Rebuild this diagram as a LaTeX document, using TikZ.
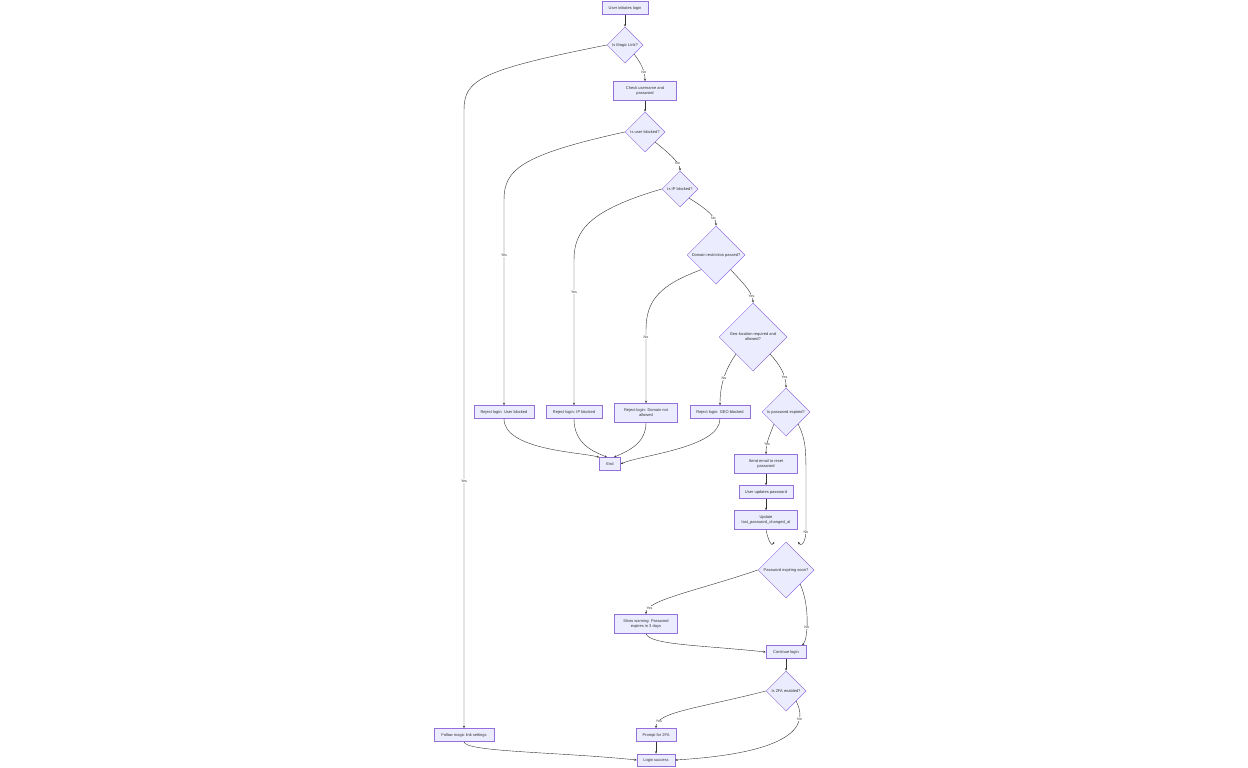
\documentclass[tikz,border=0pt]{standalone}
\usepackage{fontspec}
\setmainfont{Liberation Sans}
\usetikzlibrary{shapes.geometric,arrows.meta}
\definecolor{nfill}{HTML}{ECECFF}
\definecolor{nline}{HTML}{9370DB}
\definecolor{eline}{HTML}{333333}
\begin{document}
\begin{tikzpicture}[x=1pt,y=-1pt,
  every node/.style={font=\fontsize{4}{5}\selectfont,text=eline},
  box/.style={draw=nline,fill=nfill,line width=0.5pt,minimum height=13pt,align=center,inner sep=1pt},
  dia/.style={draw=nline,fill=nfill,line width=0.5pt,diamond,aspect=1,inner sep=0pt,align=center},
  edge/.style={draw=eline,line width=0.4pt,-{Stealth[length=2.5pt,width=2pt]}},
  lab/.style={fill=white,inner sep=0.6pt,font=\fontsize{3.6}{4}\selectfont}]
\useasboundingbox (0,0) rectangle (1248,768);
\node[box,minimum width=46pt] (start) at (625,8) {User initiates login};
\node[dia,minimum size=36pt] (magic) at (625,45) {Is Magic Link?};
\node[box,minimum width=63pt,minimum height=19pt] (check) at (645,91) {Check username and\\password};
\node[dia,minimum size=40pt] (ublock) at (645,132) {Is user blocked?};
\node[dia,minimum size=36pt] (ipb) at (680,189) {Is IP blocked?};
\node[dia,minimum size=58pt] (dom) at (716,255) {Domain restriction passed?};
\node[dia,minimum size=68pt] (geo) at (753,337) {Geo-location required and\\allowed?};
\node[box,minimum width=60pt] (rejU) at (504,412) {Reject login: User blocked};
\node[box,minimum width=56pt] (rejIP) at (574,412) {Reject login: IP blocked};
\node[box,minimum width=63pt,minimum height=19pt] (rejD) at (646,413) {Reject login: Domain not\\allowed};
\node[box,minimum width=60pt] (rejG) at (720,412) {Reject login: GEO blocked};
\node[dia,minimum size=48pt] (pexp) at (786,412) {Is password expired?};
\node[box,minimum width=21pt] (endn) at (610,464) {End};
\node[box,minimum width=63pt,minimum height=19pt] (send) at (766,464) {Send email to reset\\password};
\node[box,minimum width=54pt] (upd) at (766,492) {User updates password};
\node[box,minimum width=63pt,minimum height=19pt] (updts) at (766,520) {Update\\last\_password\_changed\_at};
\node[dia,minimum size=56pt] (soon) at (786,570) {Password expiring soon?};
\node[box,minimum width=63pt,minimum height=19pt] (warn) at (646,624) {Show warning: Password\\expires in 3 days};
\node[box,minimum width=40pt] (cont) at (786,652) {Continue login};
\node[dia,minimum size=40pt] (tfa) at (786,691) {Is 2FA enabled?};
\node[box,minimum width=60pt] (follow) at (464,735) {Follow magic link settings};
\node[box,minimum width=40pt] (prompt) at (656,735) {Prompt for 2FA};
\node[box,minimum width=38pt,minimum height=12pt] (succ) at (656,760) {Login success};

\draw[edge] (start) -- (magic);
\draw[edge] (magic.south east) .. controls (640,62) and (645,70) .. (check.north) node[lab,pos=0.7] {No};
\draw[edge] (magic.west) .. controls (480,70) and (464,80) .. (464,110) -- (follow.north) node[lab,pos=0.6] {Yes};
\draw[edge] (check) -- (ublock);
\draw[edge] (ublock.west) .. controls (520,155) and (504,170) .. (504,200) -- (rejU.north) node[lab,pos=0.27] {Yes};
\draw[edge] (ublock.south east) .. controls (665,150) and (680,162) .. (ipb.north) node[lab,pos=0.75] {No};
\draw[edge] (ipb.west) .. controls (590,210) and (574,230) .. (574,260) -- (rejIP.north) node[lab,pos=0.22] {Yes};
\draw[edge] (ipb.south east) .. controls (700,205) and (716,215) .. (dom.north) node[lab,pos=0.75] {No};
\draw[edge] (dom.south west) .. controls (660,285) and (646,300) .. (646,330) -- (rejD.north) node[lab,pos=0.1] {No};
\draw[edge] (dom.south east) .. controls (740,280) and (753,292) .. (geo.north) node[lab,pos=0.8] {Yes};
\draw[edge] (geo.south west) .. controls (725,370) and (720,385) .. (rejG.north) node[lab,pos=0.5] {No};
\draw[edge] (geo.south east) .. controls (780,365) and (786,375) .. (pexp.north) node[lab,pos=0.7] {Yes};
\draw[edge] (rejU.south) .. controls (504,450) and (580,452) .. (endn.north west);
\draw[edge] (rejIP.south) .. controls (574,445) and (595,452) .. ([xshift=-3pt]endn.north);
\draw[edge] (rejD.south) .. controls (646,445) and (625,452) .. ([xshift=4pt]endn.north);
\draw[edge] (rejG.south) .. controls (720,448) and (640,455) .. (endn.east);
\draw[edge] (pexp.south west) .. controls (770,435) and (766,442) .. (send.north) node[lab,pos=0.7] {Yes};
\draw[edge] (pexp.south east) .. controls (806,440) and (806,450) .. (806,480) -- (806,530) .. controls (806,540) and (802,548) .. ([xshift=12pt]soon.north) node[lab,pos=0.08] {No};
\draw[edge] (send) -- (upd);
\draw[edge] (upd) -- (updts);
\draw[edge] (updts.south) .. controls (768,540) and (772,548) .. ([xshift=-12pt]soon.north);
\draw[edge] (soon.west) .. controls (700,590) and (646,600) .. (warn.north) node[lab,pos=0.85] {Yes};
\draw[edge] (soon.south east) .. controls (810,605) and (808,640) .. ([xshift=16pt]cont.north) node[lab,pos=0.6] {No};
\draw[edge] (warn.south) .. controls (650,645) and (700,645) .. (cont.west);
\draw[edge] (cont) -- (tfa);
\draw[edge] (tfa.west) .. controls (700,708) and (656,712) .. (prompt.north) node[lab,pos=0.85] {Yes};
\draw[edge] (tfa.south east) .. controls (806,720) and (806,752) .. (succ.east) node[lab,pos=0.28] {No};
\draw[edge] (follow.south) .. controls (464,752) and (560,752) .. (succ.west);
\draw[edge] (prompt) -- (succ);
\end{tikzpicture}
\end{document}
